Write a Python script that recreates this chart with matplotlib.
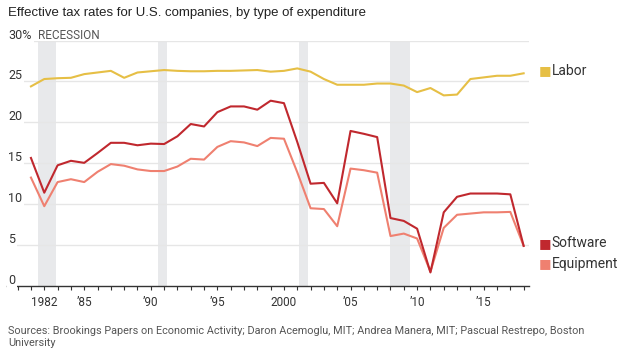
import numpy as np
import matplotlib
matplotlib.use("Agg")
import matplotlib.pyplot as plt
from matplotlib import font_manager

years = list(range(1981, 2019))

labor = [24.4, 25.3, 25.4, 25.45, 25.9, 26.1, 26.3, 25.45, 26.1, 26.25,
         26.4, 26.3, 26.25, 26.25, 26.3, 26.3, 26.35, 26.4, 26.2, 26.3,
         26.6, 26.2, 25.3, 24.6, 24.6, 24.6, 24.75, 24.75, 24.5, 23.7,
         24.2, 23.3, 23.4, 25.3, 25.5, 25.7, 25.7, 26.0]

software = [15.65, 11.4, 14.75, 15.3, 15.05, 16.25, 17.5, 17.5, 17.2, 17.4,
            17.35, 18.3, 19.8, 19.5, 21.25, 21.95, 21.95, 21.55, 22.65, 22.35,
            17.6, 12.5, 12.6, 10.1, 18.95, 18.6, 18.2, 8.3, 7.95, 7.0,
            1.65, 9.0, 10.9, 11.3, 11.3, 11.3, 11.2, 4.9]

equipment = [13.25, 9.75, 12.7, 13.05, 12.7, 13.95, 14.9, 14.7, 14.25, 14.05,
             14.05, 14.6, 15.55, 15.45, 17.0, 17.7, 17.55, 17.1, 18.1, 18.0,
             13.9, 9.5, 9.4, 7.3, 14.35, 14.15, 13.85, 6.1, 6.4, 5.8,
             1.75, 7.1, 8.7, 8.85, 9.0, 9.0, 9.05, 4.9]

rec_start = [1981.5, 1990.55, 2001.15, 2007.95]
rec_end = [1982.85, 1991.2, 2001.8, 2009.45]

yticks = [0, 5, 10, 15, 20, 25, 30]
ytick_labels = ["0", "5", "10", "15", "20", "25", "30%"]
xticks = [1982, 1985, 1990, 1995, 2000, 2005, 2010, 2015]
xtick_labels = ["1982", "\u201985", "\u201990", "\u201995", "2000", "\u201905", "\u201910", "\u201915"]

c_labor = "#e6bf45"
c_soft = "#c0282e"
c_equip = "#ef8070"

avail = {f.name for f in font_manager.fontManager.ttflist}
narrow = "Liberation Sans Narrow" if "Liberation Sans Narrow" in avail else "Roboto"
plt.rcParams["font.family"] = [narrow, "DejaVu Sans"]

fig = plt.figure(figsize=(6.24, 3.53), dpi=100)
ax = fig.add_axes([0.0112, 0.19, 0.8365, 0.695])

for s, e in zip(rec_start, rec_end):
    ax.axvspan(s, e, color="#e8e9eb", lw=0, zorder=0)

for v in yticks[1:]:
    ax.axhline(v, color="#e6e6e6", lw=1, zorder=1)

ax.plot(years, labor, color=c_labor, lw=1.5, zorder=3)
ax.plot(years, equipment, color=c_equip, lw=1.5, zorder=3)
ax.plot(years, software, color=c_soft, lw=1.5, zorder=4)

ax.set_xlim(1979.2, 2018.4)
ax.set_ylim(0, 30)

for sp in ["top", "right", "left"]:
    ax.spines[sp].set_visible(False)
ax.spines["bottom"].set_color("#333333")
ax.spines["bottom"].set_linewidth(1)
ax.spines["bottom"].set_zorder(5)

ax.set_yticks([])
ax.set_xticks(xticks)
ax.set_xticklabels(xtick_labels, fontsize=8.5, color="#333333")
ax.set_xticks(range(1980, 2019), minor=True)
ax.tick_params(axis="x", which="both", length=3, width=0.8, color="#333333", pad=4.5)

ytrans = ax.get_yaxis_transform()
for v, lab in zip(yticks, ytick_labels):
    ax.annotate(lab, xy=(0, v), xycoords=ytrans, xytext=(1, 4), textcoords="offset points",
                ha="left", va="center", fontsize=9, color="#333333", zorder=6,
                bbox=dict(boxstyle="square,pad=0.15", fc="white", ec="none"),
                annotation_clip=False)

ax.annotate("RECESSION", xy=(rec_start[0], 30), xytext=(0, 4), textcoords="offset points",
            ha="left", va="center", fontsize=8.5, color="#555555", annotation_clip=False)

# legend labels at the line ends
leg = [("Labor", c_labor, labor[-1] + 0.3),
       ("Software", c_soft, software[-1] + 0.3),
       ("Equipment", c_equip, equipment[-1] - 2.2)]
for name, col, yv in leg:
    ax.annotate("\u25a0", xy=(1, yv), xycoords=ytrans, xytext=(7, 0), textcoords="offset points",
                ha="left", va="center", fontsize=9.5, color=col, annotation_clip=False,
                family="DejaVu Sans")
    ax.annotate(name, xy=(1, yv), xycoords=ytrans, xytext=(16.5, 0), textcoords="offset points",
                ha="left", va="center", fontsize=10, color="#333333", annotation_clip=False)

fig.text(0.013, 0.963, "Effective tax rates for U.S. companies, by type of expenditure",
         fontsize=9.5, family=["Liberation Sans", "DejaVu Sans"], color="#222222", va="center")

fig.text(0.013, 0.045, "Sources: Brookings Papers on Economic Activity; Daron Acemoglu, MIT; Andrea Manera, MIT; Pascual Restrepo, Boston\nUniversity",
         fontsize=7.8, color="#555555", va="center", linespacing=1.3)

fig.savefig("out.png", dpi=100)
